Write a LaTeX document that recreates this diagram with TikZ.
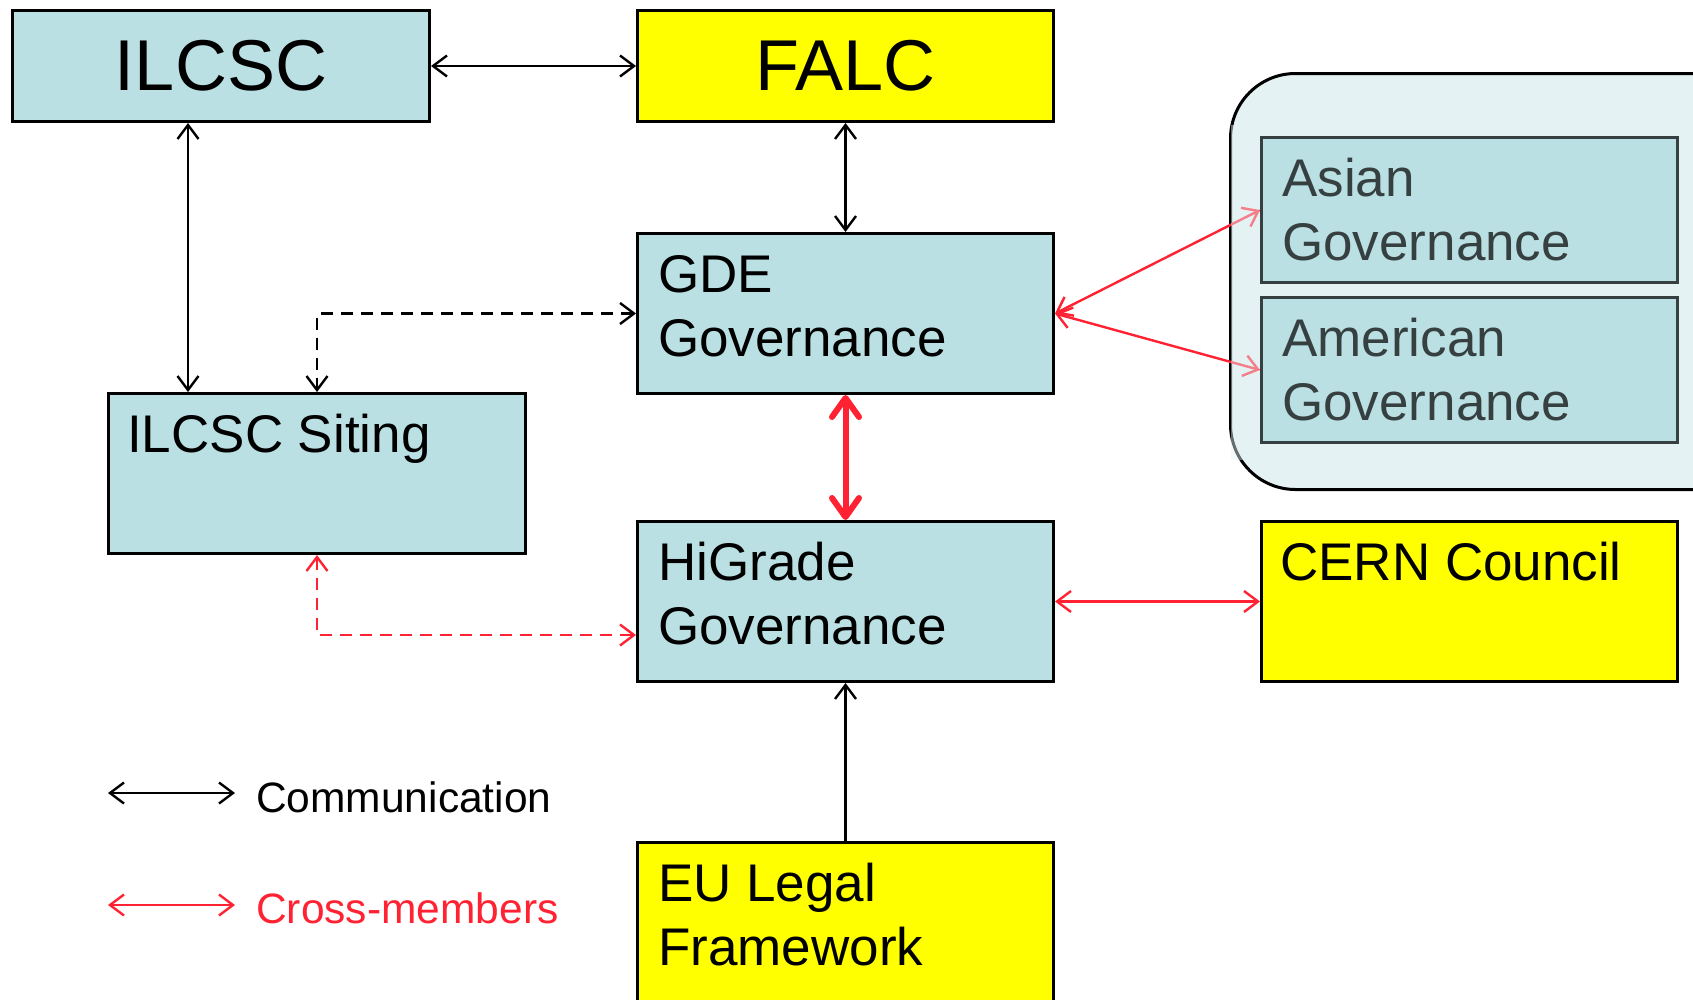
\documentclass[tikz,border=0pt]{standalone}
\usepackage{fontspec}
\setmainfont{Liberation Sans}
\usetikzlibrary{arrows.meta,calc}
\definecolor{boxblue}{RGB}{186,224,227}
\definecolor{boxyellow}{RGB}{255,255,0}
\definecolor{myred}{RGB}{255,34,51}
\definecolor{groupfill}{RGB}{228,242,243}
\definecolor{innergray}{RGB}{55,64,64}
\tikzset{
  barb/.tip={Straight Barb[length=14pt,width=21pt]},
  bigbarb/.tip={Straight Barb[length=19pt,width=27pt,round]},
}
\begin{document}
\begin{tikzpicture}[x=1pt,y=-1pt,
  box/.style={draw=black, line width=3pt, inner sep=0pt, anchor=north west,
              minimum width=416pt, minimum height=160pt},
  bluebox/.style={box, fill=boxblue},
  yellowbox/.style={box, fill=boxyellow},
  innerbox/.style={box, draw=innergray, fill=boxblue, minimum height=145pt},
  bigtxt/.style={font=\fontsize{72}{80}\selectfont},
  bodytxt/.style={anchor=north west, inner sep=0pt, align=left,
                  font=\fontsize{53}{64}\selectfont},
  legtxt/.style={anchor=base west, inner sep=0pt, font=\fontsize{42.5}{50}\selectfont},
  comm/.style={line width=2.4pt, draw=black, barb-barb},
  cross/.style={line width=2.4pt, draw=myred, barb-barb},
  bigcross/.style={line width=6pt, draw=myred, line cap=round, bigbarb-bigbarb},
  dashpat/.style={dash pattern=on 12pt off 8pt},
]
\useasboundingbox (0,0) rectangle (1693,999);

% group container
\node[draw=black, line width=3pt, fill=groupfill, rounded corners=65pt,
      anchor=north west, minimum width=536pt, minimum height=416pt, inner sep=0pt]
      (group) at (1229,72) {};

% boxes
\node[bluebox, minimum width=417pt, minimum height=111pt, bigtxt] (ilcsc) at (11,9) {ILCSC};
\node[yellowbox, minimum height=111pt, bigtxt] (falc) at (636,9) {FALC};
\node[bluebox] (gde) at (636,232) {};
\node[bluebox, minimum width=417pt] (siting) at (107,392) {};
\node[bluebox] (higrade) at (636,520) {};
\node[yellowbox] (eu) at (636,841) {};
\node[yellowbox] (cern) at (1260,520) {};

% texts
\node[bodytxt] (gdet) at ($(gde.north west)+(22,15.2)$) {\strut GDE\\Governance};
\node[bodytxt] (sitingt) at ($(siting.north west)+(20,15.2)$) {\strut ILCSC Siting};
\node[bodytxt] (higradet) at ($(higrade.north west)+(22,15.2)$) {\strut HiGrade\\Governance};
\node[bodytxt] (eut) at ($(eu.north west)+(22,15.2)$) {\strut EU Legal\\Framework};
\node[bodytxt] (cernt) at ($(cern.north west)+(20,15.2)$) {\strut CERN Council};

% connectors
\coordinate (vx) at (188,0);
\draw[comm] (ilcsc.east) -- (falc.west);
\draw[comm] (vx |- ilcsc.south) -- (vx |- siting.north);
\draw[comm] (falc.south) -- (gde.north);
\draw[comm, dashpat] (gde.west) -| (siting.north);
\draw[cross, dashpat] (siting.south) |- ($(higrade.south west)+(0,-48)$);
\draw[bigcross] (gde.south) -- (higrade.north);
\draw[cross] (higrade.east) -- (cern.west);
\draw[line width=2.4pt, -barb] (eu.north) -- (higrade.south);

% group inner boxes and their arrows
\node[innerbox] (asian) at (1260,136) {};
\node[innerbox] (american) at (1260,296) {};
\draw[cross] (gde.east) -- (asian.west);
\draw[cross] (gde.east) -- (american.west);
\fill[groupfill, fill opacity=0.45] (1231,125) rectangle (1258.5,460);
\node[bodytxt, text=innergray] (asiant) at ($(asian.north west)+(22,15.2)$) {\strut Asian\\Governance};
\node[bodytxt, text=innergray] (americant) at ($(american.north west)+(22,15.2)$) {\strut American\\Governance};

% legend
\coordinate (la1) at (108,793);
\coordinate (la2) at (235,793);
\draw[comm] (la1) -- (la2);
\node[legtxt] (legcomm) at (256,812) {Communication};
\coordinate (lb1) at (108,905);
\coordinate (lb2) at (235,905);
\draw[cross] (lb1) -- (lb2);
\node[legtxt, text=myred] (legcross) at (256,923) {Cross-members};
\end{tikzpicture}
\end{document}
